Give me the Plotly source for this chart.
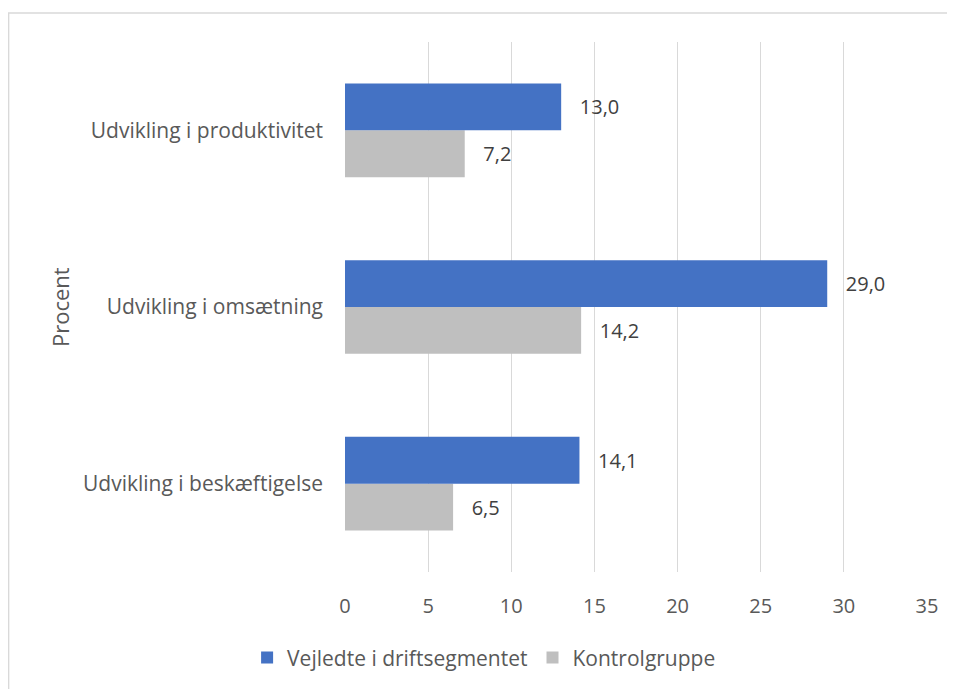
import plotly.graph_objects as go

kategorier = ["Udvikling i beskæftigelse", "Udvikling i omsætning", "Udvikling i produktivitet"]
vejledte = [14.1, 29.0, 13.0]
kontrol = [6.5, 14.2, 7.2]
x_ticks = [0, 5, 10, 15, 20, 25, 30, 35]

tekst_farve = "#595959"
fnt = "Open Sans, Liberation Sans, sans-serif"
pad = "\u00a0\u00a0\u00a0"


def fmt(v):
    return pad + f"{v:.1f}".replace(".", ",")


fig = go.Figure()
# kontrolgruppe foerst, saa den ligger under den blaa bjaelke
fig.add_trace(go.Bar(
    y=kategorier, x=kontrol, orientation="h", name="Kontrolgruppe",
    marker=dict(color="#BFBFBF", line=dict(width=0)),
    text=[fmt(v) for v in kontrol],
    textposition="outside", cliponaxis=False,
    textfont=dict(size=20, color="#404040", family=fnt),
))
fig.add_trace(go.Bar(
    y=kategorier, x=vejledte, orientation="h", name="Vejledte i driftsegmentet",
    marker=dict(color="#4472C4", line=dict(width=0)),
    text=[fmt(v) for v in vejledte],
    textposition="outside", cliponaxis=False,
    textfont=dict(size=20, color="#404040", family=fnt),
))

fig.update_layout(
    width=955, height=689,
    barmode="group", bargap=0.47, bargroupgap=0,
    plot_bgcolor="white", paper_bgcolor="white",
    font=dict(family=fnt, size=20, color=tekst_farve),
    margin=dict(l=337, r=36, t=34, b=125),
    legend=dict(orientation="h", traceorder="reversed", x=0.239, xanchor="center",
                y=-0.162, yanchor="middle", font=dict(size=21, color=tekst_farve)),
    xaxis=dict(range=[0, 35], tickvals=x_ticks, showgrid=True, gridcolor="#D9D9D9",
               gridwidth=1, zeroline=False, showline=False, ticks="",
               ticklabelstandoff=20,
               tickfont=dict(size=20, color=tekst_farve)),
    yaxis=dict(showgrid=False, zeroline=False, showline=False, ticks="",
               ticklabelstandoff=21,
               tickfont=dict(size=21, color=tekst_farve)),
    showlegend=True,
)

fig.add_annotation(text="Procent", xref="paper", yref="paper",
                   x=(60 - 345) / 582, y=0.5, xanchor="center", yanchor="middle",
                   textangle=-90, showarrow=False,
                   font=dict(size=22, color=tekst_farve))

# ramme om diagramomraadet
fig.add_shape(type="rect", xref="paper", yref="paper",
              x0=-0.578, x1=1.2, y0=-0.25, y1=1.0547,
              line=dict(color="#D9D9D9", width=1.5), layer="below")

fig.write_html("out.html")
